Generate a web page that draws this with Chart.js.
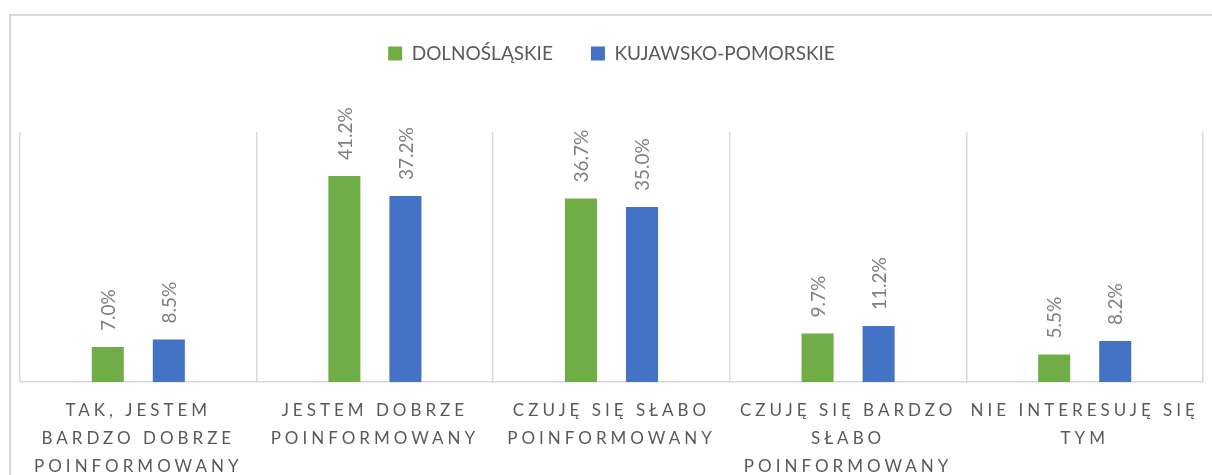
<!DOCTYPE html>
<html lang="pl">
<head>
  <meta charset="UTF-8">
  <title>Poinformowanie - województwa</title>
  <style>
    body { margin: 0; background: #fff; }
    .frame {
      position: absolute;
      left: 9px;
      top: 14px;
      width: 1220px;
      height: 480px;
      border: 2px solid #d9d9d9;
    }
    #wrap {
      position: absolute;
      left: 0;
      top: 0;
      width: 1212px;
      height: 475px;
    }
  </style>
</head>
<body>
<div class="frame"></div>
<div id="wrap"><canvas id="chart"></canvas></div>

<script src="https://cdn.jsdelivr.net/npm/chart.js"></script>
<script>
  const categories = [
    ['TAK, JESTEM', 'BARDZO DOBRZE', 'POINFORMOWANY'],
    ['JESTEM DOBRZE', 'POINFORMOWANY'],
    ['CZUJĘ SIĘ SŁABO', 'POINFORMOWANY'],
    ['CZUJĘ SIĘ BARDZO', 'SŁABO', 'POINFORMOWANY'],
    ['NIE INTERESUJĘ SIĘ', 'TYM']
  ];
  const seriesNames = ['DOLNOŚLĄSKIE', 'KUJAWSKO-POMORSKIE'];
  const dolnoslaskie = [7.0, 41.2, 36.7, 9.7, 5.5];
  const kujawskoPomorskie = [8.5, 37.2, 35.0, 11.2, 8.2];

  const FONT = 'Lato, "Open Sans", sans-serif';

  // labels above bars, rotated like in the original
  const valueLabels = {
    id: 'valueLabels',
    afterDatasetsDraw(chart) {
      const ctx = chart.ctx;
      ctx.save();
      ctx.fillStyle = '#7f7f7f';
      ctx.font = '19px ' + FONT;
      ctx.textAlign = 'left';
      ctx.textBaseline = 'middle';
      chart.data.datasets.forEach((ds, i) => {
        chart.getDatasetMeta(i).data.forEach((bar, j) => {
          ctx.save();
          ctx.translate(bar.x, bar.y - 16);
          ctx.rotate(-Math.PI / 2);
          ctx.fillText(ds.data[j].toFixed(1) + '%', 0, 1);
          ctx.restore();
        });
      });
      ctx.restore();
    }
  };

  // legend gets a fixed height, x labels get letter spacing
  const tweaks = {
    id: 'tweaks',
    beforeLayout(chart) {
      const lg = chart.legend;
      if (lg && !lg._patched) {
        const fit = lg.fit;
        lg.fit = function () {
          fit.call(this);
          this.height = 126;
        };
        lg._patched = true;
      }
    },
    afterLayout(chart) {
      const x = chart.scales.x;
      if (x && !x._patched) {
        const draw = x.drawLabels;
        x.drawLabels = function (area) {
          const ctx = this.ctx;
          ctx.save();
          ctx.letterSpacing = '4px';
          draw.call(this, area);
          ctx.restore();
        };
        x._patched = true;
      }
    }
  };

  new Chart(document.getElementById('chart'), {
    type: 'bar',
    data: {
      labels: categories,
      datasets: [
        {
          label: seriesNames[0],
          data: dolnoslaskie,
          backgroundColor: '#70ad47'
        },
        {
          label: seriesNames[1],
          data: kujawskoPomorskie,
          backgroundColor: '#4472c4'
        }
      ]
    },
    options: {
      responsive: true,
      maintainAspectRatio: false,
      animation: false,
      datasets: {
        bar: {
          categoryPercentage: 0.516,
          barPercentage: 0.525
        }
      },
      layout: {
        padding: { left: 20, right: 9, top: 6, bottom: 0 }
      },
      scales: {
        x: {
          grid: {
            offset: true,
            drawTicks: false,
            color: '#d9d9d9',
            lineWidth: 1.5
          },
          border: { color: '#d9d9d9', width: 1.5 },
          ticks: {
            color: '#595959',
            font: { family: FONT, size: 17, lineHeight: 1.65 },
            padding: 14,
            maxRotation: 0,
            autoSkip: false
          },
          afterFit(scale) { scale.height = 93; }
        },
        y: {
          display: false,
          min: 0,
          max: 50
        }
      },
      plugins: {
        legend: {
          position: 'top',
          labels: {
            color: '#595959',
            font: { family: FONT, size: 19 },
            boxWidth: 14,
            boxHeight: 14,
            padding: 38
          }
        },
        tooltip: { enabled: false }
      }
    },
    plugins: [valueLabels, tweaks]
  });
</script>
</body>
</html>
